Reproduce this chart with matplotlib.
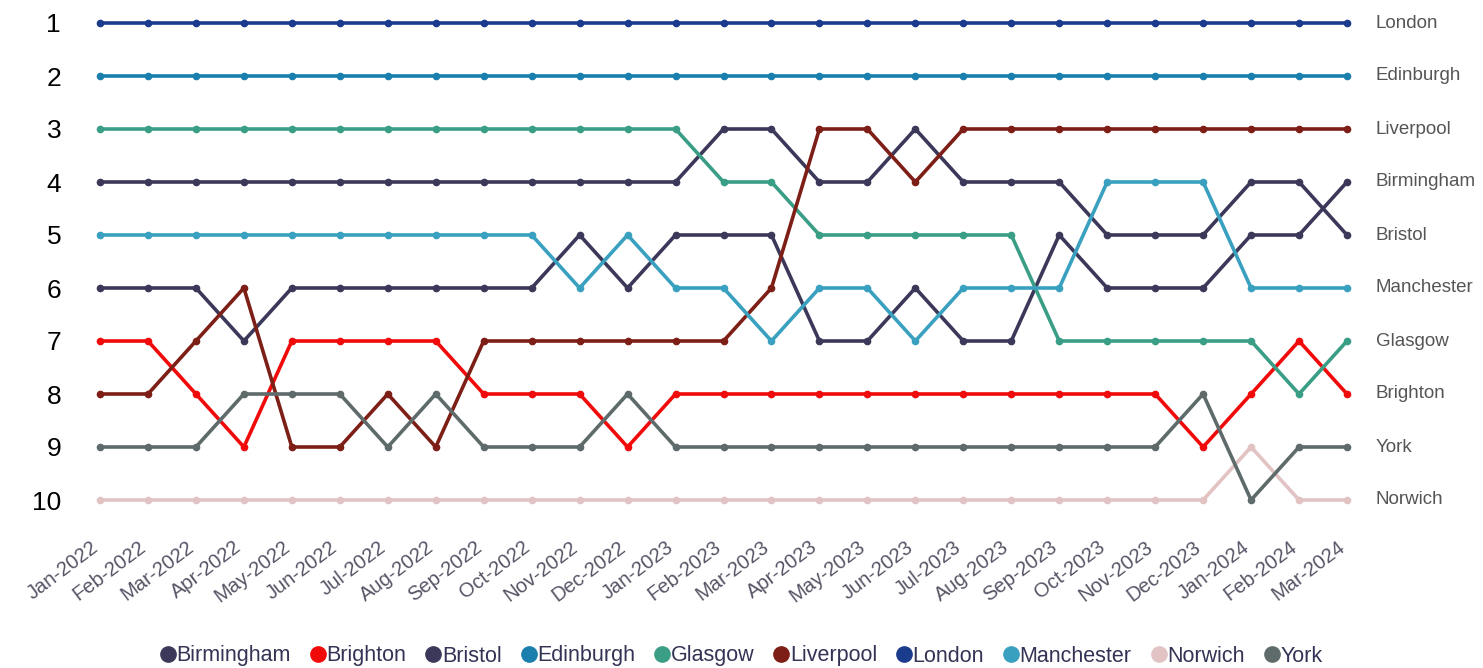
import matplotlib.pyplot as plt
from matplotlib.lines import Line2D
from matplotlib.transforms import ScaledTranslation

plt.rcParams['font.family'] = ['Liberation Sans', 'DejaVu Sans']

months = ["Jan-2022", "Feb-2022", "Mar-2022", "Apr-2022", "May-2022", "Jun-2022",
          "Jul-2022", "Aug-2022", "Sep-2022", "Oct-2022", "Nov-2022", "Dec-2022",
          "Jan-2023", "Feb-2023", "Mar-2023", "Apr-2023", "May-2023", "Jun-2023",
          "Jul-2023", "Aug-2023", "Sep-2023", "Oct-2023", "Nov-2023", "Dec-2023",
          "Jan-2024", "Feb-2024", "Mar-2024"]

london     = [1] * 27
edinburgh  = [2] * 27
glasgow    = [3, 3, 3, 3, 3, 3, 3, 3, 3, 3, 3, 3, 3, 4, 4, 5, 5, 5, 5, 5, 7, 7, 7, 7, 7, 8, 7]
liverpool  = [8, 8, 7, 6, 9, 9, 8, 9, 7, 7, 7, 7, 7, 7, 6, 3, 3, 4, 3, 3, 3, 3, 3, 3, 3, 3, 3]
brighton   = [7, 7, 8, 9, 7, 7, 7, 7, 8, 8, 8, 9, 8, 8, 8, 8, 8, 8, 8, 8, 8, 8, 8, 9, 8, 7, 8]
york       = [9, 9, 9, 8, 8, 8, 9, 8, 9, 9, 9, 8, 9, 9, 9, 9, 9, 9, 9, 9, 9, 9, 9, 8, 10, 9, 9]
norwich    = [10] * 24 + [9, 10, 10]
bristol    = [4, 4, 4, 4, 4, 4, 4, 4, 4, 4, 4, 4, 4, 3, 3, 4, 4, 3, 4, 4, 4, 5, 5, 5, 4, 4, 5]
birmingham = [6, 6, 6, 7, 6, 6, 6, 6, 6, 6, 5, 6, 5, 5, 5, 7, 7, 6, 7, 7, 5, 6, 6, 6, 5, 5, 4]
manchester = [5, 5, 5, 5, 5, 5, 5, 5, 5, 5, 6, 5, 6, 6, 7, 6, 6, 7, 6, 6, 6, 4, 4, 4, 6, 6, 6]

series = {
    "Birmingham": (birmingham, "#3b3859"),
    "Brighton": (brighton, "#f00a0a"),
    "Bristol": (bristol, "#3b3859"),
    "Edinburgh": (edinburgh, "#1a7fad"),
    "Glasgow": (glasgow, "#3a9e86"),
    "Liverpool": (liverpool, "#7d1f16"),
    "London": (london, "#1b3b8c"),
    "Manchester": (manchester, "#3aa0c0"),
    "Norwich": (norwich, "#e2c3c3"),
    "York": (york, "#5f6b6b"),
}

fig = plt.figure(figsize=(14.83, 6.68), dpi=100)
ax = fig.add_axes([100 / 1483, 168 / 668, 1247 / 1483, 477 / 668])

x = list(range(len(months)))
for name, (vals, col) in series.items():
    ax.plot(x, vals, color=col, lw=2.6, marker='o', ms=4.5, clip_on=False,
            solid_joinstyle='round')
    ax.text(x[-1] + 0.6, vals[-1], name, color='#555555', fontsize=13.5,
            va='center', ha='left')

ax.set_xlim(0, len(months) - 1)
ax.set_ylim(10, 1)
ax.set_yticks(range(1, 11))
ax.set_yticklabels([str(i) for i in range(1, 11)], fontsize=19)
ax.set_xticks(x)
ax.set_xticklabels(months, rotation=37, ha='right', rotation_mode='anchor',
                   fontsize=14.5, color='#555566')
ax.tick_params(axis='y', length=0, pad=28)
ax.tick_params(axis='x', length=0, pad=27)
off = ScaledTranslation(-10 / 100, 0, fig.dpi_scale_trans)
for lbl in ax.get_xticklabels():
    lbl.set_transform(lbl.get_transform() + off)
for s in ax.spines.values():
    s.set_visible(False)

handles = [Line2D([], [], ls='none', marker='o', ms=11, color=c)
           for _, c in series.values()]
fig.legend(handles, list(series.keys()), loc='center', bbox_to_anchor=(742 / 1483, 1 - 656 / 668),
           ncol=10, frameon=False, fontsize=15.5, handlelength=0.6, handletextpad=0.1,
           columnspacing=0.95, labelcolor='#333355')

fig.savefig("out.png", dpi=100)
